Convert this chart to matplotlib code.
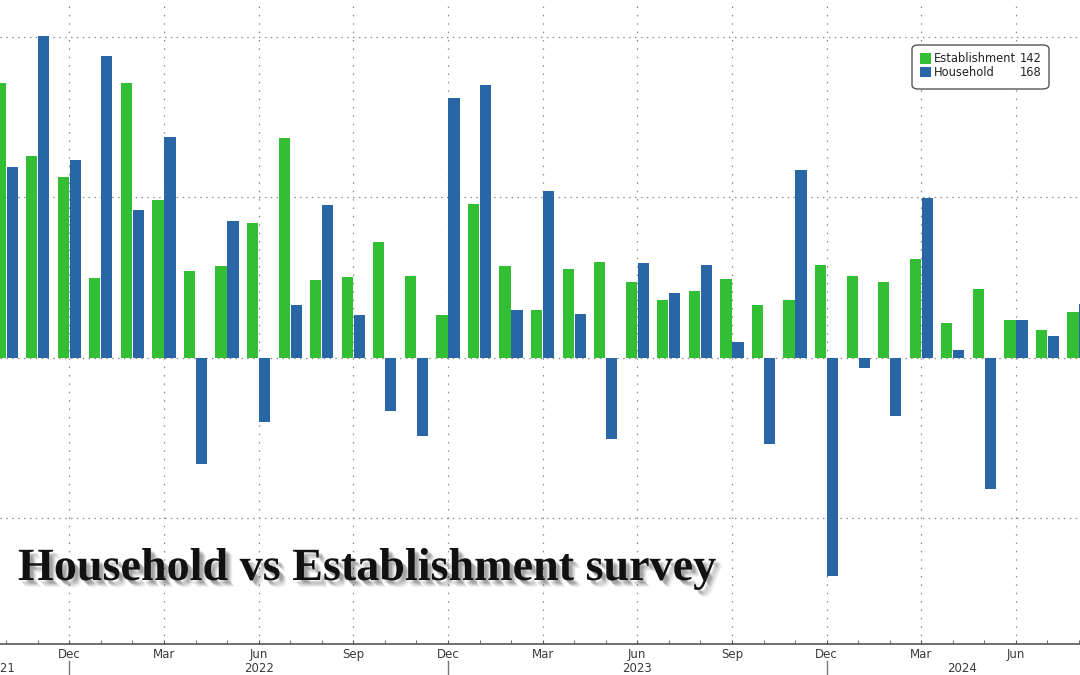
import matplotlib
matplotlib.use("Agg")
import matplotlib.pyplot as plt
import matplotlib.patheffects as pe
from matplotlib.patches import FancyBboxPatch, Rectangle
import numpy as np
import pandas as pd

# monthly change, thousands (Oct 2021 .. Aug 2024)
months = pd.period_range("2021-10", "2024-08", freq="M")
establishment = [859, 631, 565, 250, 859, 493, 271, 285, 419, 687, 241, 252,
                 360, 256, 133, 481, 285, 148, 277, 300, 237, 181, 208, 244,
                 163, 181, 288, 256, 235, 309, 107, 213, 117, 87, 142]
household = [596, 1003, 616, 941, 461, 690, -334, 425, -200, 163, 475, 134,
             -167, -245, 812, 850, 147, 521, 137, -256, 294, 202, 288, 48,
             -271, 586, -683, -32, -183, 498, 24, -410, 117, 66, 168]
legend_labels = ["Establishment", "Household"]
legend_values = ["142", "168"]
year_labels = ["2021", "2022", "2023", "2024"]
year_pos = [-0.2, 8, 20, 30.3]   # where Bloomberg centres the year text
title = "Household vs Establishment survey"

green = "#33bf33"
blue = "#2866a6"
grid_c = "#8a8a8a"
text_c = "#3a3a3a"

W, H = 1080, 675
fig = plt.figure(figsize=(W / 100, H / 100), dpi=100)
ax = fig.add_axes([0, 31 / H, 1, 644 / H])

x = np.arange(len(months))
bw = 0.355
ax.bar(x - 0.19, establishment, width=bw, color=green, zorder=3)
ax.bar(x + 0.19, household, width=bw, color=blue, zorder=3)

ax.set_xlim(-0.197, 34.03)
ax.set_ylim(-895, 1117)

# grid
for yv in [-500, 0, 500, 1000]:
    ax.axhline(yv, color=grid_c, lw=0.9, ls=(0, (1.2, 3.5)), zorder=1)
quarter = [i for i, m in enumerate(months) if m.month in (3, 6, 9, 12)]
for q in quarter:
    ax.axvline(q, color=grid_c, lw=0.9, ls=(0, (1.2, 5.5)), zorder=1)

# axes styling
for s in ["top", "left", "right"]:
    ax.spines[s].set_visible(False)
ax.spines["bottom"].set_color("#555555")
ax.spines["bottom"].set_linewidth(1.2)
ax.set_yticks([])
ax.set_xticks(quarter)
ax.set_xticklabels([months[q].strftime("%b") for q in quarter],
                   fontsize=8.5, color=text_c)
ax.set_xticks(x, minor=True)
ax.tick_params(axis="x", which="both", direction="in", length=3,
               color="#555555", pad=3)

# year separators and year labels
trans = ax.get_xaxis_transform()
for i, m in enumerate(months):
    if m.month == 12:
        ax.plot([i, i], [-0.027, -0.06], color="#777777", lw=1,
                transform=trans, clip_on=False)
for lab, xp in zip(year_labels, year_pos):
    ax.text(xp, -0.038, lab, transform=trans, ha="center", va="center",
            fontsize=8.5, color=text_c, clip_on=False)

# legend box (Bloomberg style)
def fx(px):
    return px / W

def fy(py):
    return 1 - py / H

box = FancyBboxPatch((fx(912), fy(89)), fx(1049) - fx(912), fy(45) - fy(89),
                     boxstyle="round,pad=0,rounding_size=0.006",
                     transform=fig.transFigure, facecolor="white",
                     edgecolor="#555555", lw=1.0, zorder=10)
fig.patches.append(box)
for k, (lab, val, col) in enumerate(zip(legend_labels, legend_values, [green, blue])):
    yc = 58.5 + k * 13.5
    fig.patches.append(Rectangle((fx(920), fy(yc + 5.3)), fx(10.7), 10.7 / H,
                                 transform=fig.transFigure, facecolor=col,
                                 edgecolor="none", zorder=11))
    fig.text(fx(934), fy(yc), lab, ha="left", va="center", fontsize=8.3,
             color="#222222", zorder=12)
    fig.text(fx(1042), fy(yc), val, ha="right", va="center", fontsize=8.3,
             color="#222222", zorder=12)

# big title with soft, blurred-looking shadow
shadow = [pe.SimplePatchShadow(offset=(d, -d), shadow_rgbFace="#000000", alpha=0.07)
          for d in (5, 4, 3.5, 3, 2.5, 2)]
fig.text(fx(18), fy(580), title, fontsize=33.2, fontweight="bold",
         family="Liberation Serif", color="#111111", va="baseline",
         path_effects=shadow + [pe.Normal()])

fig.savefig("out.png", dpi=100, facecolor="white")
